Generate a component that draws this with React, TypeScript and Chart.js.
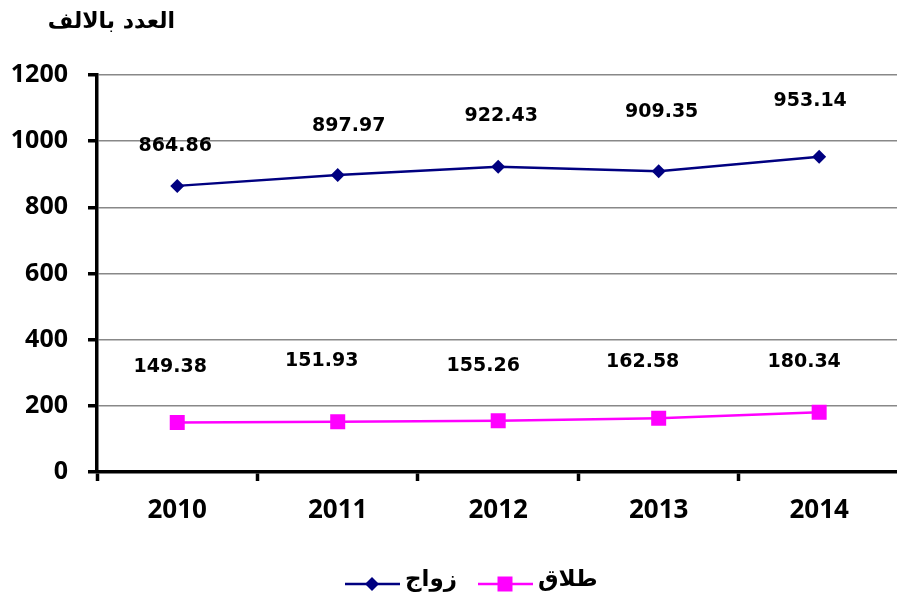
import React, { useEffect, useRef } from "react";
import { Chart, registerables } from "chart.js";

Chart.register(...registerables);

const categories = ["2010", "2011", "2012", "2013", "2014"];
const marriage = [864.86, 897.97, 922.43, 909.35, 953.14];
const divorce = [149.38, 151.93, 155.26, 162.58, 180.34];
const seriesNames = ["زواج", "طلاق"];
const unitTitle = "العدد بالالف";
const yMin = 0;
const yMax = 1200;
const yStep = 200;

// label nudges relative to each point (px), mimicking the manually placed labels
const labelNudges = [
  { dx: [-2, 11, 3, 3, -9], dy: [-40, -49, -51, -59, -56] },
  { dx: [-7, -16, -15, -16, -15], dy: [-56, -61, -55, -56, -50] },
];

const NAVY = "#000080";
const MAGENTA = "#FF00FF";

const decorPlugin = {
  id: "decor",
  afterDatasetsDraw(chart: any) {
    const ctx = chart.ctx;
    ctx.save();
    ctx.font = "bold 19px 'DejaVu Sans'";
    ctx.fillStyle = "#000";
    ctx.textAlign = "center";
    ctx.textBaseline = "middle";
    chart.data.datasets.forEach((ds: any, di: number) => {
      const meta = chart.getDatasetMeta(di);
      meta.data.forEach((pt: any, i: number) => {
        const n = labelNudges[di];
        ctx.fillText(Number(ds.data[i]).toFixed(2), pt.x + n.dx[i], pt.y + n.dy[i]);
      });
    });
    ctx.restore();
  },
  afterDraw(chart: any) {
    const ctx = chart.ctx;
    ctx.save();
    ctx.font = "bold 22px 'DejaVu Sans'";
    ctx.fillStyle = "#000";
    ctx.textAlign = "right";
    ctx.textBaseline = "middle";
    ctx.fillText(unitTitle, 175, 22);

    const ly = 584;
    const drawItem = (x0: number, color: string, shape: string, text: string) => {
      ctx.strokeStyle = color;
      ctx.lineWidth = 2.5;
      ctx.beginPath();
      ctx.moveTo(x0, ly);
      ctx.lineTo(x0 + 55, ly);
      ctx.stroke();
      ctx.fillStyle = color;
      const cx = x0 + 27;
      ctx.beginPath();
      if (shape === "diamond") {
        ctx.moveTo(cx, ly - 7);
        ctx.lineTo(cx + 7, ly);
        ctx.lineTo(cx, ly + 7);
        ctx.lineTo(cx - 7, ly);
        ctx.closePath();
      } else {
        ctx.rect(cx - 7.5, ly - 7.5, 15, 15);
      }
      ctx.fill();
      ctx.fillStyle = "#000";
      ctx.font = "bold 23px 'DejaVu Sans'";
      ctx.textAlign = "left";
      ctx.textBaseline = "middle";
      ctx.fillText(text, x0 + 60, ly - 4);
    };
    drawItem(345, NAVY, "diamond", seriesNames[0]);
    drawItem(478, MAGENTA, "square", seriesNames[1]);
    ctx.restore();
  },
};

export default function App() {
  const ref = useRef<HTMLCanvasElement | null>(null);
  useEffect(() => {
    if (!ref.current) return;
    document.body.style.margin = "0";
    document.body.style.overflow = "hidden";
    const chart = new Chart(ref.current, {
      type: "line",
      data: {
        labels: categories,
        datasets: [
          {
            label: seriesNames[0],
            data: marriage,
            borderColor: NAVY,
            backgroundColor: NAVY,
            borderWidth: 2.5,
            pointStyle: "rectRot",
            pointRadius: 7,
            pointBorderWidth: 0,
            tension: 0,
          },
          {
            label: seriesNames[1],
            data: divorce,
            borderColor: MAGENTA,
            backgroundColor: MAGENTA,
            borderWidth: 2.5,
            pointStyle: "rect",
            pointRadius: 10.6,
            pointBorderWidth: 0,
            tension: 0,
          },
        ],
      },
      options: {
        responsive: false,
        animation: false,
        layout: { padding: { top: 75, right: 8, bottom: 0, left: 0 } },
        plugins: {
          legend: { display: false },
          title: { display: false },
          tooltip: { enabled: false },
        },
        scales: {
          x: {
            offset: true,
            grid: {
              offset: true,
              drawOnChartArea: false,
              tickLength: 9,
              tickColor: "#000",
              tickWidth: 3.5,
            },
            border: { color: "#000", width: 3.5 },
            ticks: {
              color: "#000",
              font: { family: "'Open Sans'", size: 26, weight: "bold" },
              padding: 14,
              maxRotation: 0,
            },
            afterFit(scale: any) {
              scale.height = 130;
            },
          },
          y: {
            min: yMin,
            max: yMax,
            ticks: {
              stepSize: yStep,
              color: "#000",
              font: { family: "'Open Sans'", size: 25, weight: "bold" },
              padding: 20,
              callback: (v: any) => String(v),
            },
            grid: {
              color: "#888",
              lineWidth: 1.5,
              tickLength: 9,
              tickColor: "#000",
              tickWidth: 3.5,
            },
            border: { color: "#000", width: 3.5 },
            afterFit(scale: any) {
              scale.width = 97;
            },
          },
        },
      } as any,
      plugins: [decorPlugin],
    });
    return () => chart.destroy();
  }, []);
  return (
    <div style={{ position: "fixed", left: 0, top: 0, width: 897, height: 602, overflow: "hidden", background: "#fff" }}>
      <canvas ref={ref} width={910} height={602} style={{ display: "block" }} />
    </div>
  );
}
